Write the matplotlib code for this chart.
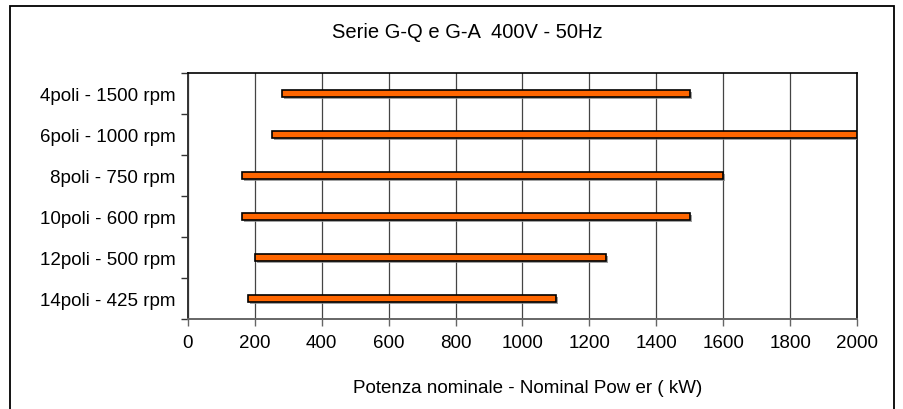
import matplotlib
matplotlib.use("Agg")
import matplotlib.pyplot as plt
import matplotlib.patheffects as pe
from matplotlib.patches import Rectangle

plt.rcParams['font.family'] = ['Liberation Sans', 'DejaVu Sans']

# range of nominal power per pole configuration (kW)
labels = ['4poli - 1500 rpm', '6poli - 1000 rpm', '8poli - 750 rpm',
          '10poli - 600 rpm', '12poli - 500 rpm', '14poli - 425 rpm']
p_min = [280, 250, 160, 160, 200, 180]
p_max = [1500, 2000, 1600, 1500, 1250, 1100]

fig = plt.figure(figsize=(9.04, 4.10), dpi=100)
ax = fig.add_axes([188/904, 1 - 320/410, (857-188)/904, (320-74)/410])

# outer frame of the chart (bottom edge is cut off in the original)
fig.patches.append(Rectangle((10/904, -0.1), (894-10)/904, 1.1 - 7/410, transform=fig.transFigure,
                             fill=False, edgecolor='black', linewidth=1.3))

ypos = list(range(len(labels)))[::-1]
widths = [b - a for a, b in zip(p_min, p_max)]
bars = ax.barh(ypos, widths, left=p_min, height=0.17, color='#FF6600',
               edgecolor='black', linewidth=1.2, zorder=3)
for b in bars:
    b.set_path_effects([pe.SimplePatchShadow(offset=(1.5, -1.5), shadow_rgbFace='#888888', alpha=0.8),
                        pe.Normal()])

ax.set_xlim(0, 2000)
ax.set_ylim(-0.5, len(labels) - 0.5)
ax.set_xticks(range(0, 2001, 200))
ax.set_yticks(ypos)
ax.set_yticklabels(labels)
ax.set_yticks([i + 0.5 for i in range(-1, len(labels))], minor=True)
ax.tick_params(axis='y', which='major', length=0, pad=9, labelsize=13.5)
ax.tick_params(axis='y', which='minor', length=5, width=1, color='#333333')
ax.tick_params(axis='x', length=5, width=1, color='#666666', labelsize=13.5, pad=6)

ax.grid(axis='x', color='#444444', linewidth=0.9, zorder=0)
ax.set_axisbelow(True)
for s in ['top', 'right']:
    ax.spines[s].set_color('black')
    ax.spines[s].set_linewidth(1.2)
ax.spines['left'].set_color('#333333')
ax.spines['left'].set_linewidth(1.4)
ax.spines['bottom'].set_color('#666666')
ax.spines['bottom'].set_linewidth(1.4)

fig.text(467/904, 1 - 33/410, 'Serie G-Q e G-A  400V - 50Hz', ha='center', va='center', fontsize=14.5)
fig.text(528/904, 1 - 389/410, 'Potenza nominale - Nominal Pow er ( kW)', ha='center', va='center',
         fontsize=13.5)

fig.savefig('out.png', dpi=100)
